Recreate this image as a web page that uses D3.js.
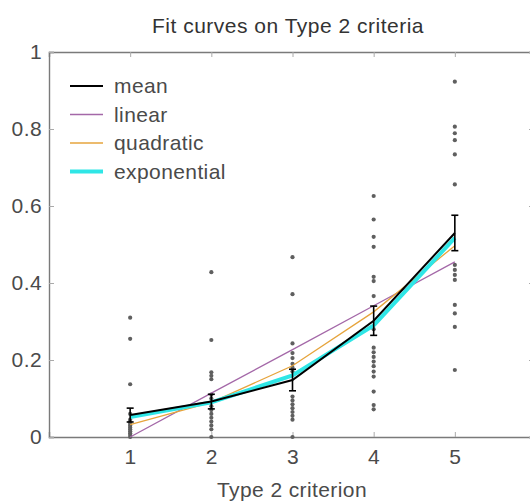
<!DOCTYPE html>
<html>
<head>
<meta charset="utf-8">
<script src="https://cdn.jsdelivr.net/npm/d3@7"></script>
<style>
  html, body { margin: 0; padding: 0; background: #fff; }
  svg { display: block; }
  text { font-family: "Liberation Sans", Arial, Helvetica, sans-serif; }
</style>
</head>
<body>
<svg id="chart" width="530" height="504"></svg>
<script>
// Type 2 criterion levels (x positions)
const criteria = [1, 2, 3, 4, 5];
const xTicks = [1, 2, 3, 4, 5];
const yTicks = [0, 0.2, 0.4, 0.6, 0.8, 1];

// Individual observations at each criterion
const pointsC1 = [0.31, 0.255, 0.137, 0.06, 0.045, 0.04, 0.035, 0.03, 0.025, 0.02, 0.015, 0.01, 0.005, 0.0];
const pointsC2 = [0.428, 0.252, 0.168, 0.159, 0.15, 0.11, 0.1, 0.09, 0.08, 0.07, 0.06, 0.05, 0.04, 0.03, 0.02, 0.0];
const pointsC3 = [0.467, 0.371, 0.243, 0.218, 0.205, 0.19, 0.18, 0.17, 0.105, 0.095, 0.085, 0.075, 0.065, 0.055, 0.045, 0.0];
const pointsC4 = [0.626, 0.565, 0.52, 0.494, 0.416, 0.405, 0.366, 0.28, 0.232, 0.22, 0.208, 0.196, 0.184, 0.17, 0.157, 0.118, 0.083, 0.072];
const pointsC5 = [0.923, 0.806, 0.789, 0.771, 0.734, 0.656, 0.447, 0.434, 0.421, 0.408, 0.343, 0.321, 0.286, 0.174];

// Mean and standard error per criterion
const meanValues = [0.057, 0.092, 0.148, 0.302, 0.53];
const semValues = [0.018, 0.019, 0.028, 0.038, 0.046];

// Fitted curves evaluated at each criterion
const linearFit = [0.0, 0.114, 0.227, 0.341, 0.455];
const quadraticFit = [0.032, 0.09, 0.185, 0.325, 0.497];
const exponentialFit = [0.052, 0.09, 0.16, 0.29, 0.517];

const pointSets = [pointsC1, pointsC2, pointsC3, pointsC4, pointsC5];

const svg = d3.select("#chart");
const plotLeft = 49, plotRight = 536, plotTop = 52, plotBottom = 437;

const x = d3.scaleLinear().domain([0, 6]).range([plotLeft, plotRight]);
const y = d3.scaleLinear().domain([0, 1]).range([plotBottom, plotTop]);

const axisColor = "#7a7a7a";
const textColor = "#4a4a4a";

// Title
svg.append("text")
  .attr("x", 288).attr("y", 33)
  .attr("text-anchor", "middle")
  .attr("font-size", 21)
  .attr("letter-spacing", 0.5)
  .attr("fill", "#333")
  .text("Fit curves on Type 2 criteria");

// Axes (box style with inward ticks)
const gBottom = svg.append("g").attr("transform", `translate(0,${plotBottom})`)
  .call(d3.axisBottom(x).tickValues(xTicks).tickSize(-5).tickPadding(12).tickFormat(d3.format("d")));
const gTop = svg.append("g").attr("transform", `translate(0,${plotTop})`)
  .call(d3.axisTop(x).tickValues(xTicks).tickSize(-5).tickFormat(""));
const gLeft = svg.append("g").attr("transform", `translate(${plotLeft},0)`)
  .call(d3.axisLeft(y).tickValues(yTicks).tickSize(-5).tickPadding(7).tickFormat(d => d === 0 || d === 1 ? d3.format("d")(d) : d3.format(".1f")(d)));
const gRight = svg.append("g").attr("transform", `translate(${plotRight},0)`)
  .call(d3.axisRight(y).tickValues(yTicks).tickSize(-7).tickFormat(""));

[gBottom, gTop, gLeft, gRight].forEach(g => {
  g.select(".domain").attr("stroke", axisColor).attr("stroke-width", 1.4);
  g.selectAll(".tick line").attr("stroke", "#aaa").attr("stroke-width", 1);
  g.selectAll(".tick text").attr("fill", textColor).attr("font-size", 21)
    .attr("letter-spacing", 0.4)
    .attr("font-family", "'Liberation Sans', Arial, sans-serif");
});
gBottom.selectAll(".tick text").attr("dy", "0.71em");

// Axis label
svg.append("text")
  .attr("x", 292).attr("y", 497)
  .attr("text-anchor", "middle")
  .attr("font-size", 21)
  .attr("letter-spacing", 0.4)
  .attr("fill", textColor)
  .text("Type 2 criterion");

// Individual observations
const dots = svg.append("g");
pointSets.forEach((pts, i) => {
  dots.selectAll(null).data(pts).enter().append("circle")
    .attr("cx", x(criteria[i]))
    .attr("cy", d => y(d))
    .attr("r", 2.1)
    .attr("fill", "#5f5f5f");
});

const line = d3.line().x((d, i) => x(criteria[i])).y(d => y(d));

// Fitted curves
svg.append("path").datum(linearFit).attr("d", line)
  .attr("fill", "none").attr("stroke", "#a468a8").attr("stroke-width", 1.3);
svg.append("path").datum(quadraticFit).attr("d", line)
  .attr("fill", "none").attr("stroke", "#e6a43c").attr("stroke-width", 1.3);
svg.append("path").datum(exponentialFit).attr("d", line)
  .attr("fill", "none").attr("stroke", "#2fe6e6").attr("stroke-width", 4);

// Mean with error bars
svg.append("path").datum(meanValues).attr("d", line)
  .attr("fill", "none").attr("stroke", "#000").attr("stroke-width", 2);
const bars = svg.append("g").attr("stroke", "#000").attr("stroke-width", 1.6);
meanValues.forEach((m, i) => {
  const cx = x(criteria[i]);
  const y1 = y(m + semValues[i]), y0 = y(m - semValues[i]);
  bars.append("line").attr("x1", cx).attr("x2", cx).attr("y1", y1).attr("y2", y0);
  bars.append("line").attr("x1", cx - 3.5).attr("x2", cx + 3.5).attr("y1", y1).attr("y2", y1);
  bars.append("line").attr("x1", cx - 3.5).attr("x2", cx + 3.5).attr("y1", y0).attr("y2", y0);
});

// Legend
const legendItems = [
  { label: "mean", color: "#000", width: 2 },
  { label: "linear", color: "#a468a8", width: 1.3 },
  { label: "quadratic", color: "#e6a43c", width: 1.3 },
  { label: "exponential", color: "#2fe6e6", width: 4 }
];
const legend = svg.append("g");
legendItems.forEach((it, i) => {
  const ly = 86 + i * 28.5;
  legend.append("line").attr("x1", 70).attr("x2", 103).attr("y1", ly).attr("y2", ly)
    .attr("stroke", it.color).attr("stroke-width", it.width);
  legend.append("text").attr("x", 114).attr("y", ly).attr("dy", "0.35em")
    .attr("font-size", 21).attr("letter-spacing", 0.4)
    .attr("fill", textColor).text(it.label);
});
</script>
</body>
</html>
